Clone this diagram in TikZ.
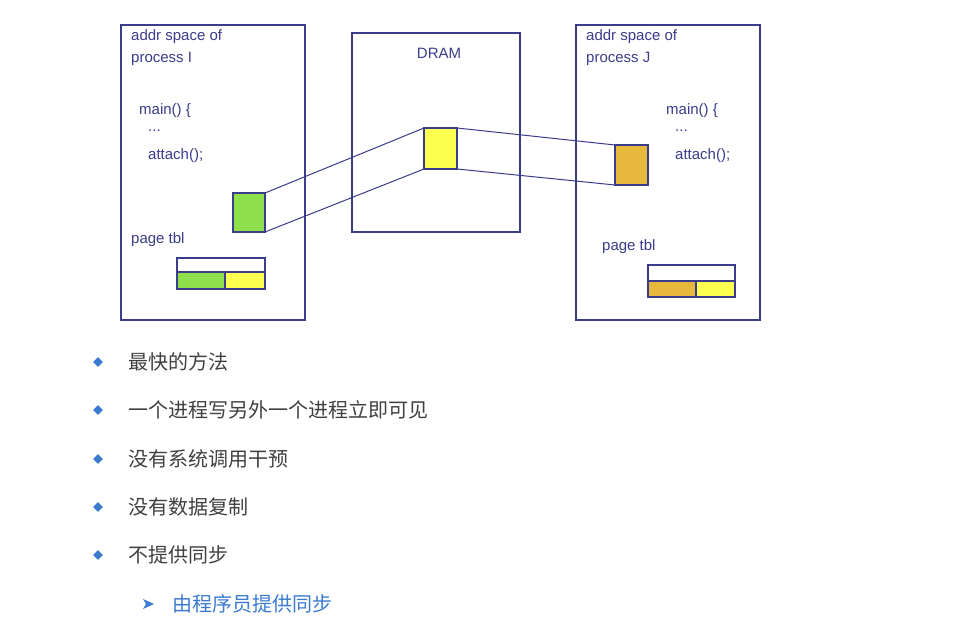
\documentclass[tikz,border=0pt]{standalone}
\usepackage{fontspec}
\setmainfont{Liberation Sans}
\newfontfamily\cjk{Noto Sans CJK SC}
\usetikzlibrary{shapes.geometric}
\definecolor{navy}{HTML}{3C3C8C}
\definecolor{gr}{HTML}{8EE04C}
\definecolor{ye}{HTML}{FFFF50}
\definecolor{orr}{HTML}{E6B83C}
\definecolor{bl}{HTML}{3A7BD0}
\tikzset{frame/.style={draw=navy,line width=1.2pt},
lbl/.style={anchor=west,inner sep=0pt,font=\fontsize{15}{22}\selectfont,text=navy,align=left},
cell/.style={draw=navy,line width=1.2pt},
conn/.style={draw=navy,line width=1pt},
bul/.style={diamond,fill=bl,inner sep=0pt,minimum size=10pt},
btxt/.style={anchor=west,inner sep=0pt,font=\cjk\fontsize{20}{22}\selectfont,text=black!75}}
\begin{document}
\begin{tikzpicture}[x=1pt,y=-1pt]
\useasboundingbox[fill=white] (0,0) rectangle (978,644);
\draw[frame] (121,25) rectangle (305,320);
\draw[frame] (352,33) rectangle (520,232);
\draw[frame] (576,25) rectangle (760,320);
\node[lbl] (ai) at (131,37) {addr space of};
\node[lbl] (ai2) at (131,59) {process I};
\node[lbl] (mi) at (139,111) {main() \{};
\node[lbl] (mi2) at (148,131) {...};
\node[lbl] (mi3) at (148,156) {attach();};
\node[lbl] (pi) at (131,240) {page tbl};
\node[lbl] (aj) at (586,37) {addr space of};
\node[lbl] (aj2) at (586,59) {process J};
\node[lbl] (mj) at (666,111) {main() \{};
\node[lbl] (mj2) at (675,131) {...};
\node[lbl] (mj3) at (675,156) {attach();};
\node[lbl] (pj) at (602,247) {page tbl};
\node[lbl,anchor=center] (dr) at (439,53) {DRAM};
\coordinate (g1) at (233,193); \coordinate (g2) at (265,232);
\coordinate (y1) at (424,128); \coordinate (y2) at (457,169);
\coordinate (o1) at (615,145); \coordinate (o2) at (648,185);
\filldraw[cell,fill=gr] (g1) rectangle (g2);
\filldraw[cell,fill=ye] (y1) rectangle (y2);
\filldraw[cell,fill=orr] (o1) rectangle (o2);
\draw[conn] (g2|-g1) -- (y1) (g2) -- (y1|-y2);
\draw[conn] (y2|-y1) -- (o1) (y2) -- (o1|-o2);
\draw[cell] (177,258) rectangle (265,289);
\filldraw[cell,fill=gr] (177,272) rectangle (225,289);
\filldraw[cell,fill=ye] (225,272) rectangle (265,289);
\draw[cell] (648,265) rectangle (735,297);
\filldraw[cell,fill=orr] (648,281) rectangle (696,297);
\filldraw[cell,fill=ye] (696,281) rectangle (735,297);
\foreach \y/\t [count=\i] in {362/最快的方法,410/一个进程写另外一个进程立即可见,459/没有系统调用干预,507/没有数据复制,555/不提供同步}{
  \node[bul] (b\i) at (98,\y) {};
  \node[btxt] (t\i) at (128,\y) {\t};
}
\fill[bl] (143,599) -- (154,604) -- (143,609) -- (146,604) -- cycle;
\node[btxt,text=bl] (st) at (172,604) {由程序员提供同步};
\end{tikzpicture}
\end{document}
